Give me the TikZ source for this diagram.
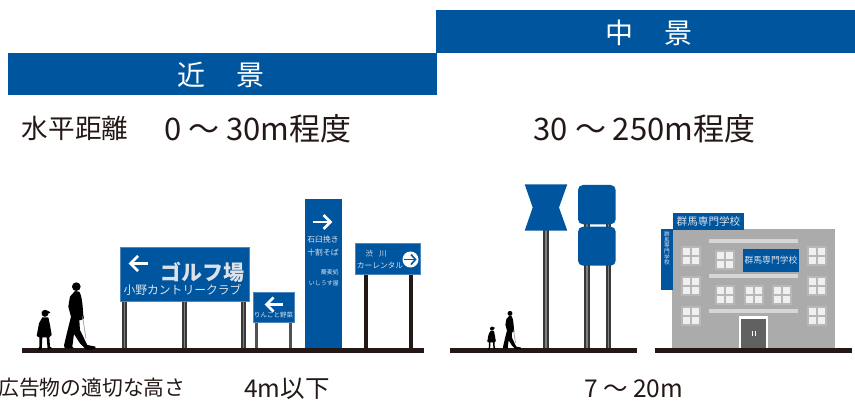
\documentclass[tikz,border=0pt]{standalone}
\usepackage{fontspec}
\setmainfont{Noto Sans CJK JP}
\usepackage{xcolor}
\usetikzlibrary{positioning}
\definecolor{signblue}{HTML}{00559F}
\definecolor{groundblack}{HTML}{231815}
\definecolor{signtext}{HTML}{DDE2E9}
\definecolor{wallgrey}{HTML}{ABABAB}
\newcommand{\fsize}[1]{\fontsize{#1}{#1}\selectfont}

\begin{document}
\begin{tikzpicture}[
    x=1pt, y=-1pt,
    header/.style={fill=signblue, draw=none},
    headtext/.style={text=white, inner sep=0pt, font=\fsize{28}},
    bigtext/.style={text=groundblack, inner sep=0pt, font=\fsize{31}},
    lowtext/.style={text=groundblack, inner sep=0pt, font=\fsize{24.5}},
    signboard/.style={fill=signblue, draw=signblue!70!white, line width=0.5pt},
    signlabel/.style={text=signtext, inner sep=0pt},
    ground/.style={fill=groundblack, draw=none},
    postbar/.style={fill=black!78, draw=none},
    postmid/.style={fill=black!50, draw=none},
    arrowline/.style={draw=white, line width=2.8pt, miter limit=10},
    windowbox/.pic={
        \fill[black!28] (0,0) rectangle (20,20);
        \foreach \wx in {2,11}
            \foreach \wy in {2,11}
                \fill[black!6] (\wx,\wy) rectangle ++(7,7);
    },
    walkman/.pic={
        \fill[black] (0,-190) circle (13);
        \fill[black] (-4,-177) -- (9,-175) .. controls (18,-160) and (19,-130) .. (21,-105)
            -- (23,-95) -- (15,-90) -- (9,-90) -- (11,-60) -- (33,-15) -- (58,-10) -- (56,-3)
            -- (31,0) -- (11,-20) -- (-7,-48) -- (-12,-10) -- (-7,-5) -- (-34,-5) -- (-37,-13)
            -- (-26,-60) -- (-16,-100) -- (-24,-130) -- (-19,-160) -- cycle;
        \draw[black!35, line width=0.8pt] (19,-100) -- (29,-35);
    },
    walkgirl/.pic={
        \fill[black] (0,-110) circle (10.5);
        \fill[black] (0,-120) -- (12,-116) -- (16,-112) -- (5,-108) -- cycle;
        \fill[black] (-8,-98) -- (10,-98) -- (15,-75) -- (20,-45) -- (13,-38) -- (15,-10)
            -- (22,-5) -- (8,-1) -- (5,-38) -- (-8,-38) -- (-10,-2) -- (-22,2) -- (-17,-10)
            -- (-17,-38) -- (-25,-42) -- (-18,-80) -- cycle;
    }
]
\useasboundingbox (0,0) rectangle (855,401);

% Header bars
\fill[header] (8,53) rectangle (437,95);
\fill[header] (436,10) rectangle (855,53);
\node[headtext] (neartitle) at (221,75) {近\hspace{1.1em}景};
\node[headtext] (midtitle) at (649,33) {中\hspace{1.1em}景};

% Distance row
\node[text=groundblack, inner sep=0pt, font=\fsize{26.6}] (distlabel) at (75,128) {水平距離};
\node[bigtext] (neardist) at (258,129) {0 〜 30m程度};
\node[bigtext] (middist) at (644.5,129) {30 〜 250m程度};

% Height row
\node[text=groundblack, inner sep=0pt, font=\fsize{20.8}] (heightlabel) at (92,388) {広告物の適切な高さ};
\node[lowtext] (nearheight) at (287,388.5) {4m以下};
\node[lowtext] (midheight) at (633.5,388.5) {7 〜 20m};

% Ground lines
\fill[ground] (22,348) rectangle (424,353);
\fill[ground] (450,348) rectangle (637,353);
\fill[ground] (655,348) rectangle (852,353);

% People
\pic[shift={(76.3,350)}, scale=1/3] {walkman};
\pic[shift={(45,350)}, scale=1/3] {walkgirl};
\pic[shift={(510,349.5)}, scale=0.19] {walkman};
\pic[shift={(492,349.5)}, scale=0.19] {walkgirl};

% Golf sign
\foreach \px in {122,182,241} {
    \fill[postbar] (\px,301) rectangle ++(5,47);
    \fill[postmid] (\px+1.7,301) rectangle ++(1.6,47);
}
\fill[signboard] (120,247) rectangle (249.5,301);
\draw[arrowline] (148,263.5) -- (131,263.5);
\draw[arrowline] (138,256) -- (130.5,263.5) -- (138,271);
\node[signlabel, font=\fsize{21}\bfseries] (golfname) at (202.5,272) {ゴルフ場};
\node[signlabel, font=\fsize{11.8}] (golfsub) at (182.5,290) {小野カントリークラブ};

% Small apple sign
\foreach \px in {255,289}
    \fill[black!68] (\px,322) rectangle ++(3,26);
\fill[signboard] (253,292) rectangle (294,322);
\draw[arrowline] (283,304.5) -- (267,304.5);
\draw[arrowline] (273.5,297.5) -- (266.5,304.5) -- (273.5,311.5);
\node[signlabel, font=\fsize{6.5}] (applesign) at (273.5,315.5) {りんごと野菜};

% Tall sign
\fill[signblue] (305,199) rectangle (342,348);
\draw[arrowline] (313,222) -- (330,222);
\draw[arrowline] (323.5,215) -- (330.5,222) -- (323.5,229);
\node[signlabel, font=\fsize{7.8}] (sobaone) at (323,240) {石臼挽き};
\node[signlabel, font=\fsize{7.8}] (sobatwo) at (323,253) {十割そば};
\node[signlabel, font=\fsize{6}, anchor=east] (sobathree) at (339,272.5) {蕎麦処};
\node[signlabel, font=\fsize{6}, anchor=east] (sobafour) at (339,283) {いしうす屋};

% Car rental sign
\foreach \px in {364,409}
    \fill[ground] (\px,274) rectangle ++(4,74);
\fill[signboard] (355,243) rectangle (420,274);
\node[signlabel, font=\fsize{7.5}] (rentone) at (376,254) {渋\hspace{0.8em}川};
\node[signlabel, font=\fsize{7.7}] (renttwo) at (380,266) {カーレンタル};
\node[circle, fill=white, inner sep=0pt, minimum size=16pt] (rentcircle) at (410.5,259.5) {};
\draw[signblue, line width=1.6pt] (404,259.5) -- (415,259.5);
\draw[signblue, line width=1.6pt] (411,254.5) -- (415.5,259.5) -- (411,264.5);

% Hourglass sign
\fill[postbar] (543.3,230) rectangle (548.7,348);
\fill[postmid] (545.3,230) rectangle (546.9,348);
\fill[signblue] (524.7,184.3) -- (567.3,184.3) -- (559,207.5) -- (567.3,230.7) -- (524.7,230.7) -- (532.7,207.5) -- cycle;

% Twin rounded signs
\foreach \px in {584.3,606} {
    \fill[postbar] (\px,224) rectangle ++(5.2,124);
    \fill[postmid] (\px+1.8,224) rectangle ++(1.6,124);
}
\fill[signblue, rounded corners=5pt] (578,185) rectangle (615.7,224.3);
\fill[signblue, rounded corners=5pt] (578,226.7) rectangle (615.7,265.7);

% School building
\fill[wallgrey] (672,229) rectangle (835,348);
\foreach \sy in {239,274,309}
    \fill[black!16] (709,\sy) rectangle (798,\sy+4);
\foreach \wx/\wy in {681/246,681/276,681/306,715/250,715/285,744/285,772/285,807/246,807/276,807/306}
    \pic at (\wx,\wy) {windowbox};
\fill[signblue] (661,229) rectangle (673,290);
\fill[signblue] (673,213) rectangle (744,229.7);
\fill[signblue] (743,249) rectangle (799,272);
\node[signlabel, font=\fsize{10.6}] (schooltop) at (708.5,221) {群馬専門学校};
\node[signlabel, font=\fsize{8.8}] (schoolmid) at (771,260.5) {群馬専門学校};
\node[signlabel, font=\fsize{5.6}, align=center] (schoolside) at (667,248.5) {群\\馬\\専\\門\\学\\校};

% School door
\fill[white] (739,316) rectangle (768,348);
\fill[black!62] (741,319) rectangle (766,348);
\fill[white] (752,331) rectangle ++(0.9,5);
\fill[white] (755,331) rectangle ++(0.9,5);

\end{tikzpicture}
\end{document}
